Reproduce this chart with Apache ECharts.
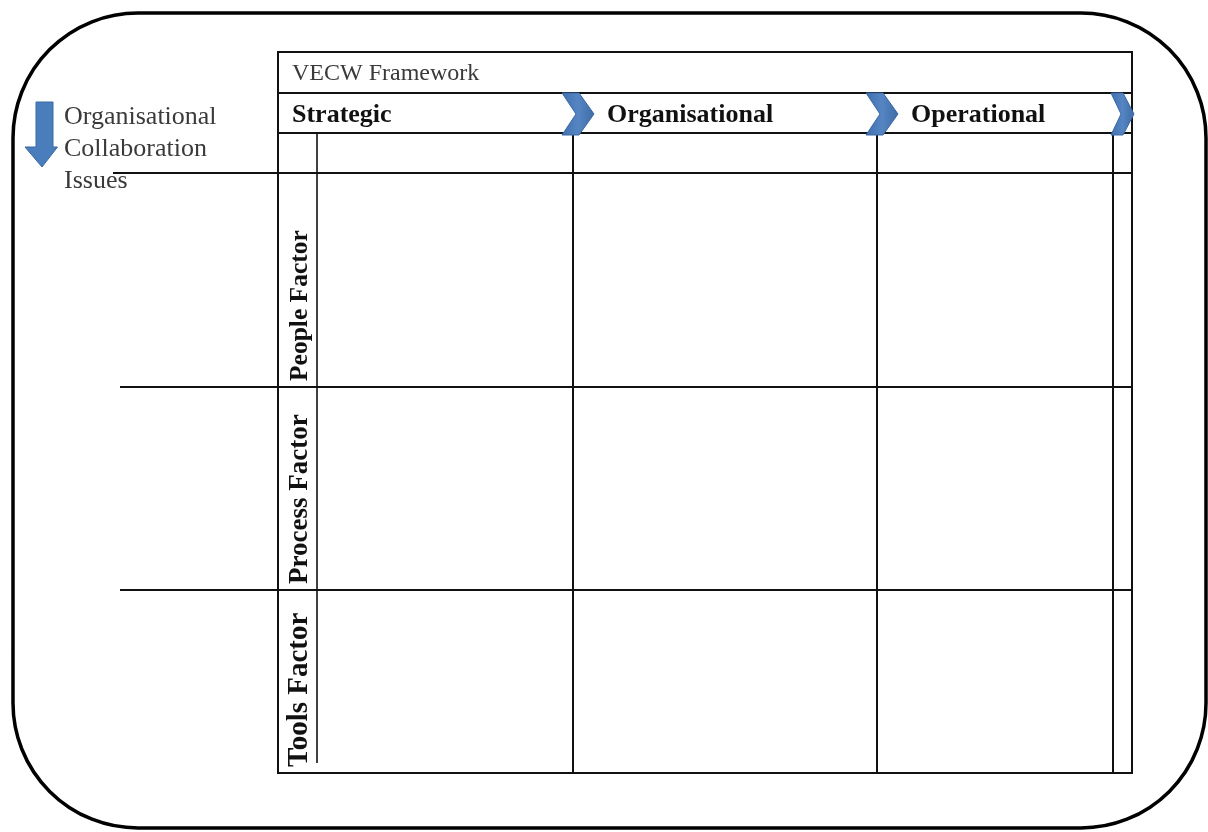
<!DOCTYPE html>
<html>
<head>
<meta charset="utf-8">
<script src="https://cdn.jsdelivr.net/npm/echarts@6/dist/echarts.min.js"></script>
<style>html,body{margin:0;padding:0;background:#fff}#c{width:1208px;height:832px}</style>
</head>
<body>
<div id="c"></div>
<script>
// ---- content ----
const frameworkTitle = 'VECW Framework';
const columns = ['Strategic', 'Organisational', 'Operational'];
const rows = ['People Factor', 'Process Factor', 'Tools Factor'];
const sideLabel = ['Organisational', 'Collaboration', 'Issues'];

// ---- layout ----
const T = { left: 278, right: 1132, top: 52, titleBottom: 93, headBottom: 133, blankBottom: 173, bottom: 773 };
const labelCol = 317;
const colX = [317, 573, 877, 1113];        // column boundaries (last is narrow trailing column)
const rowY = [173, 387, 590, 773];
const rowLineStart = [113, 120, 120];
const rowFont = [25.5, 27, 29];
const SERIF = '"Liberation Serif", "DejaVu Serif", serif';
const LW = 2;
const BLUE = '#4a7dbb', BLUE_D = '#3b69a3';

const g = [];
function line(x1, y1, x2, y2, w) {
  g.push({ type: 'line', shape: { x1, y1, x2, y2 }, style: { stroke: '#111', lineWidth: w || LW } });
}
// frame
g.push({ type: 'rect', shape: { x: 13, y: 13, width: 1193, height: 815, r: 125 },
  style: { fill: 'none', stroke: '#000', lineWidth: 3.5 } });

// table outer border
g.push({ type: 'rect', shape: { x: T.left, y: T.top, width: T.right - T.left, height: T.bottom - T.top },
  style: { fill: 'none', stroke: '#111', lineWidth: LW } });
line(T.left, T.titleBottom, T.right, T.titleBottom);
line(T.left, T.headBottom, T.right, T.headBottom);
// row lines (extend left outside table)
rowY.slice(0, 3).forEach((y, i) => line(rowLineStart[i], y, T.right, y));
// label column inner line
line(labelCol, T.headBottom, labelCol, 763, 1.6);
// column dividers
colX.slice(1).forEach(x => line(x, T.headBottom, x, T.bottom));

// title
g.push({ type: 'text', x: 292, y: 74, style: { text: frameworkTitle, font: '24px ' + SERIF, fill: '#3a3a3a', textAlign: 'left', textVerticalAlign: 'middle' } });

// headers + chevrons
const headStarts = [T.left, colX[1], colX[2]];
columns.forEach((c, i) => {
  g.push({ type: 'text', x: headStarts[i] + (i === 0 ? 14 : 34), y: 115,
    style: { text: c, font: 'bold 26px ' + SERIF, fill: '#111', textAlign: 'left', textVerticalAlign: 'middle' } });
});
const chevGrad = new echarts.graphic.LinearGradient(0, 0, 1, 0, [
  { offset: 0, color: '#3f6fae' }, { offset: 0.5, color: '#5585c2' }, { offset: 1, color: '#3d6ba8' }]);
function chevron(x0, w, tipW, notch) {
  const y0 = 93, y1 = 135, ym = 114;
  g.push({ type: 'polygon', shape: { points: [[x0, y0], [x0 + w, y0], [x0 + w + tipW, ym], [x0 + w, y1], [x0, y1], [x0 + notch, ym]] },
    style: { fill: chevGrad, stroke: BLUE_D, lineWidth: 1 } });
}
chevron(562, 17, 15, 14);
chevron(866, 17, 15, 14);
chevron(1111, 12, 11, 10);

// row labels (rotated)
rows.forEach((r, i) => {
  g.push({ type: 'text', x: 300, y: rowY[i + 1] - 6, rotation: Math.PI / 2,
    style: { text: r, font: 'bold ' + rowFont[i] + 'px ' + SERIF, fill: '#111', textAlign: 'left', textVerticalAlign: 'middle' } });
});

// side label + arrow
sideLabel.forEach((t, i) => {
  g.push({ type: 'text', x: 64, y: 117 + i * 32,
    style: { text: t, font: '26px ' + SERIF, fill: '#3a3a3a', textAlign: 'left', textVerticalAlign: 'middle' } });
});
g.push({ type: 'polygon', shape: { points: [[36, 102], [53, 102], [53, 147], [57.5, 147], [42, 167], [25, 147], [36, 147]] },
  style: { fill: BLUE, stroke: BLUE_D, lineWidth: 1 } });

const chart = echarts.init(document.getElementById('c'), null, { renderer: 'canvas' });
chart.setOption({ backgroundColor: '#fff', animation: false, graphic: { elements: g } });
</script>
</body>
</html>
